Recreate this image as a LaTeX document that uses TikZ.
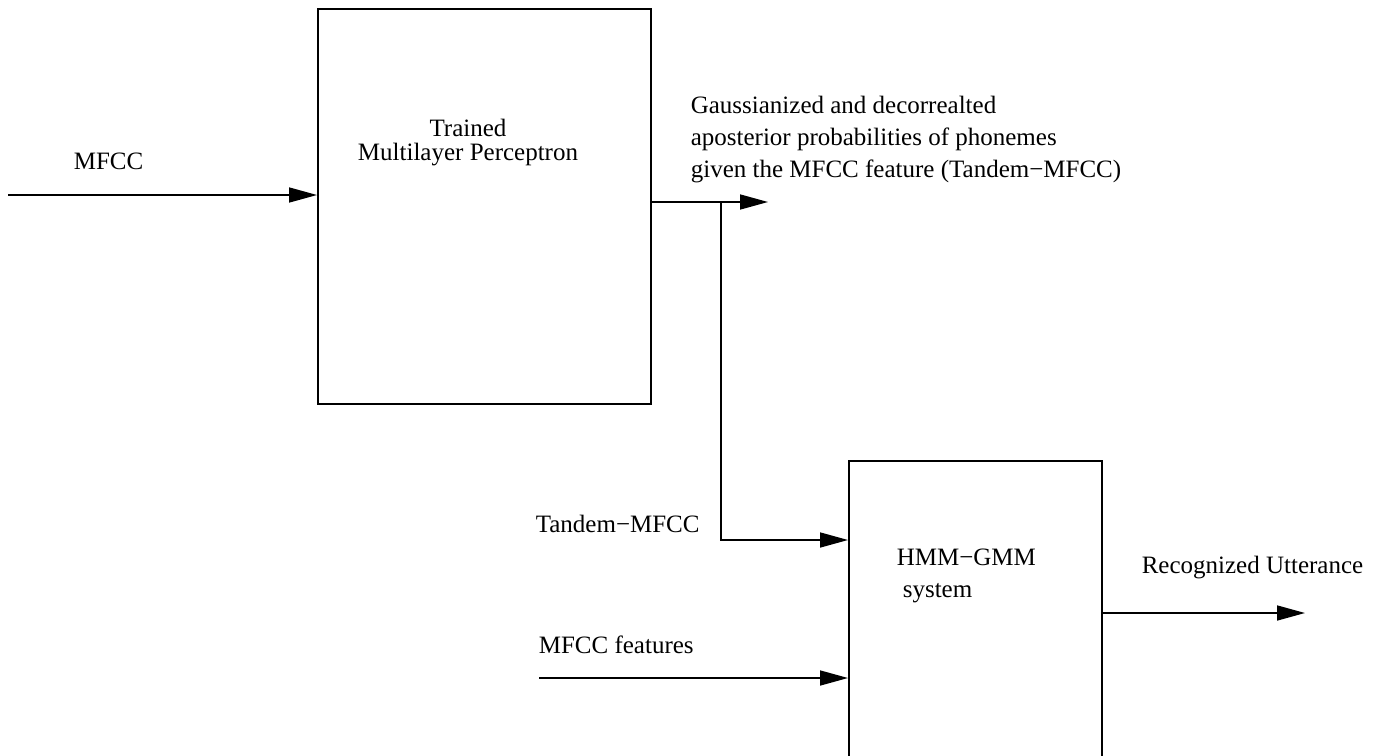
\documentclass[tikz,border=0pt]{standalone}
\usepackage{fontspec}
\setmainfont{Liberation Serif}
\usetikzlibrary{arrows.meta}
\begin{document}
\begin{tikzpicture}[x=1pt,y=-1pt,
  line width=1.6pt,
  every node/.style={font=\fontsize{25}{30}\selectfont},
  block/.style={draw, line width=1.8pt, inner sep=0pt, anchor=north west},
  label/.style={inner sep=0pt, anchor=base west},
  flow/.style={-{Triangle[length=28pt,width=15pt]}}]
  \useasboundingbox (0,0) rectangle (1381,755);
  \clip (0,0) rectangle (1381,755);

  % processing blocks
  \node[block, minimum width=333pt, minimum height=395pt] (mlp) at (317,8) {};
  \node[block, minimum width=253pt, minimum height=330pt] (hmm) at (848,460) {};

  % free ends and junctions
  \coordinate (mfccin) at (8,195);
  \coordinate (mlpout) at (650,202);
  \coordinate (split) at (721,202);
  \coordinate (tandtip) at (768,202);
  \coordinate (bend) at (721,540);
  \coordinate (featin) at (539,678);
  \coordinate (recout) at (1101,613);
  \coordinate (rectip) at (1305,613);

  % connectors
  \draw[flow] (mfccin) -- (mfccin -| mlp.west);
  \draw[flow] (mlpout) -- (tandtip);
  \draw[flow] (split) -- (bend) -- (bend -| hmm.west);
  \draw[flow] (featin) -- (featin -| hmm.west);
  \draw[flow] (recout) -- (rectip);

  % texts
  \node[label] (tmfcc) at (73,169) {MFCC};
  \node[inner sep=0pt, anchor=base] (ttrained) at (468,136) {Trained};
  \node[inner sep=0pt, anchor=base] (tmlp) at (468,160) {Multilayer Perceptron};
  \node[label] (tg1) at (690,113) {Gaussianized and decorrealted};
  \node[label] (tg2) at (690,145) {aposterior probabilities of phonemes};
  \node[label] (tg3) at (690,177) {given the MFCC feature (Tandem−MFCC)};
  \node[label] (ttandem) at (535,532) {Tandem−MFCC};
  \node[label] (tfeat) at (538,653) {MFCC features};
  \node[label] (thmm1) at (896,565) {HMM−GMM};
  \node[label] (thmm2) at (902,597) {system};
  \node[label] (trec) at (1141,573) {Recognized Utterance};
\end{tikzpicture}
\end{document}
